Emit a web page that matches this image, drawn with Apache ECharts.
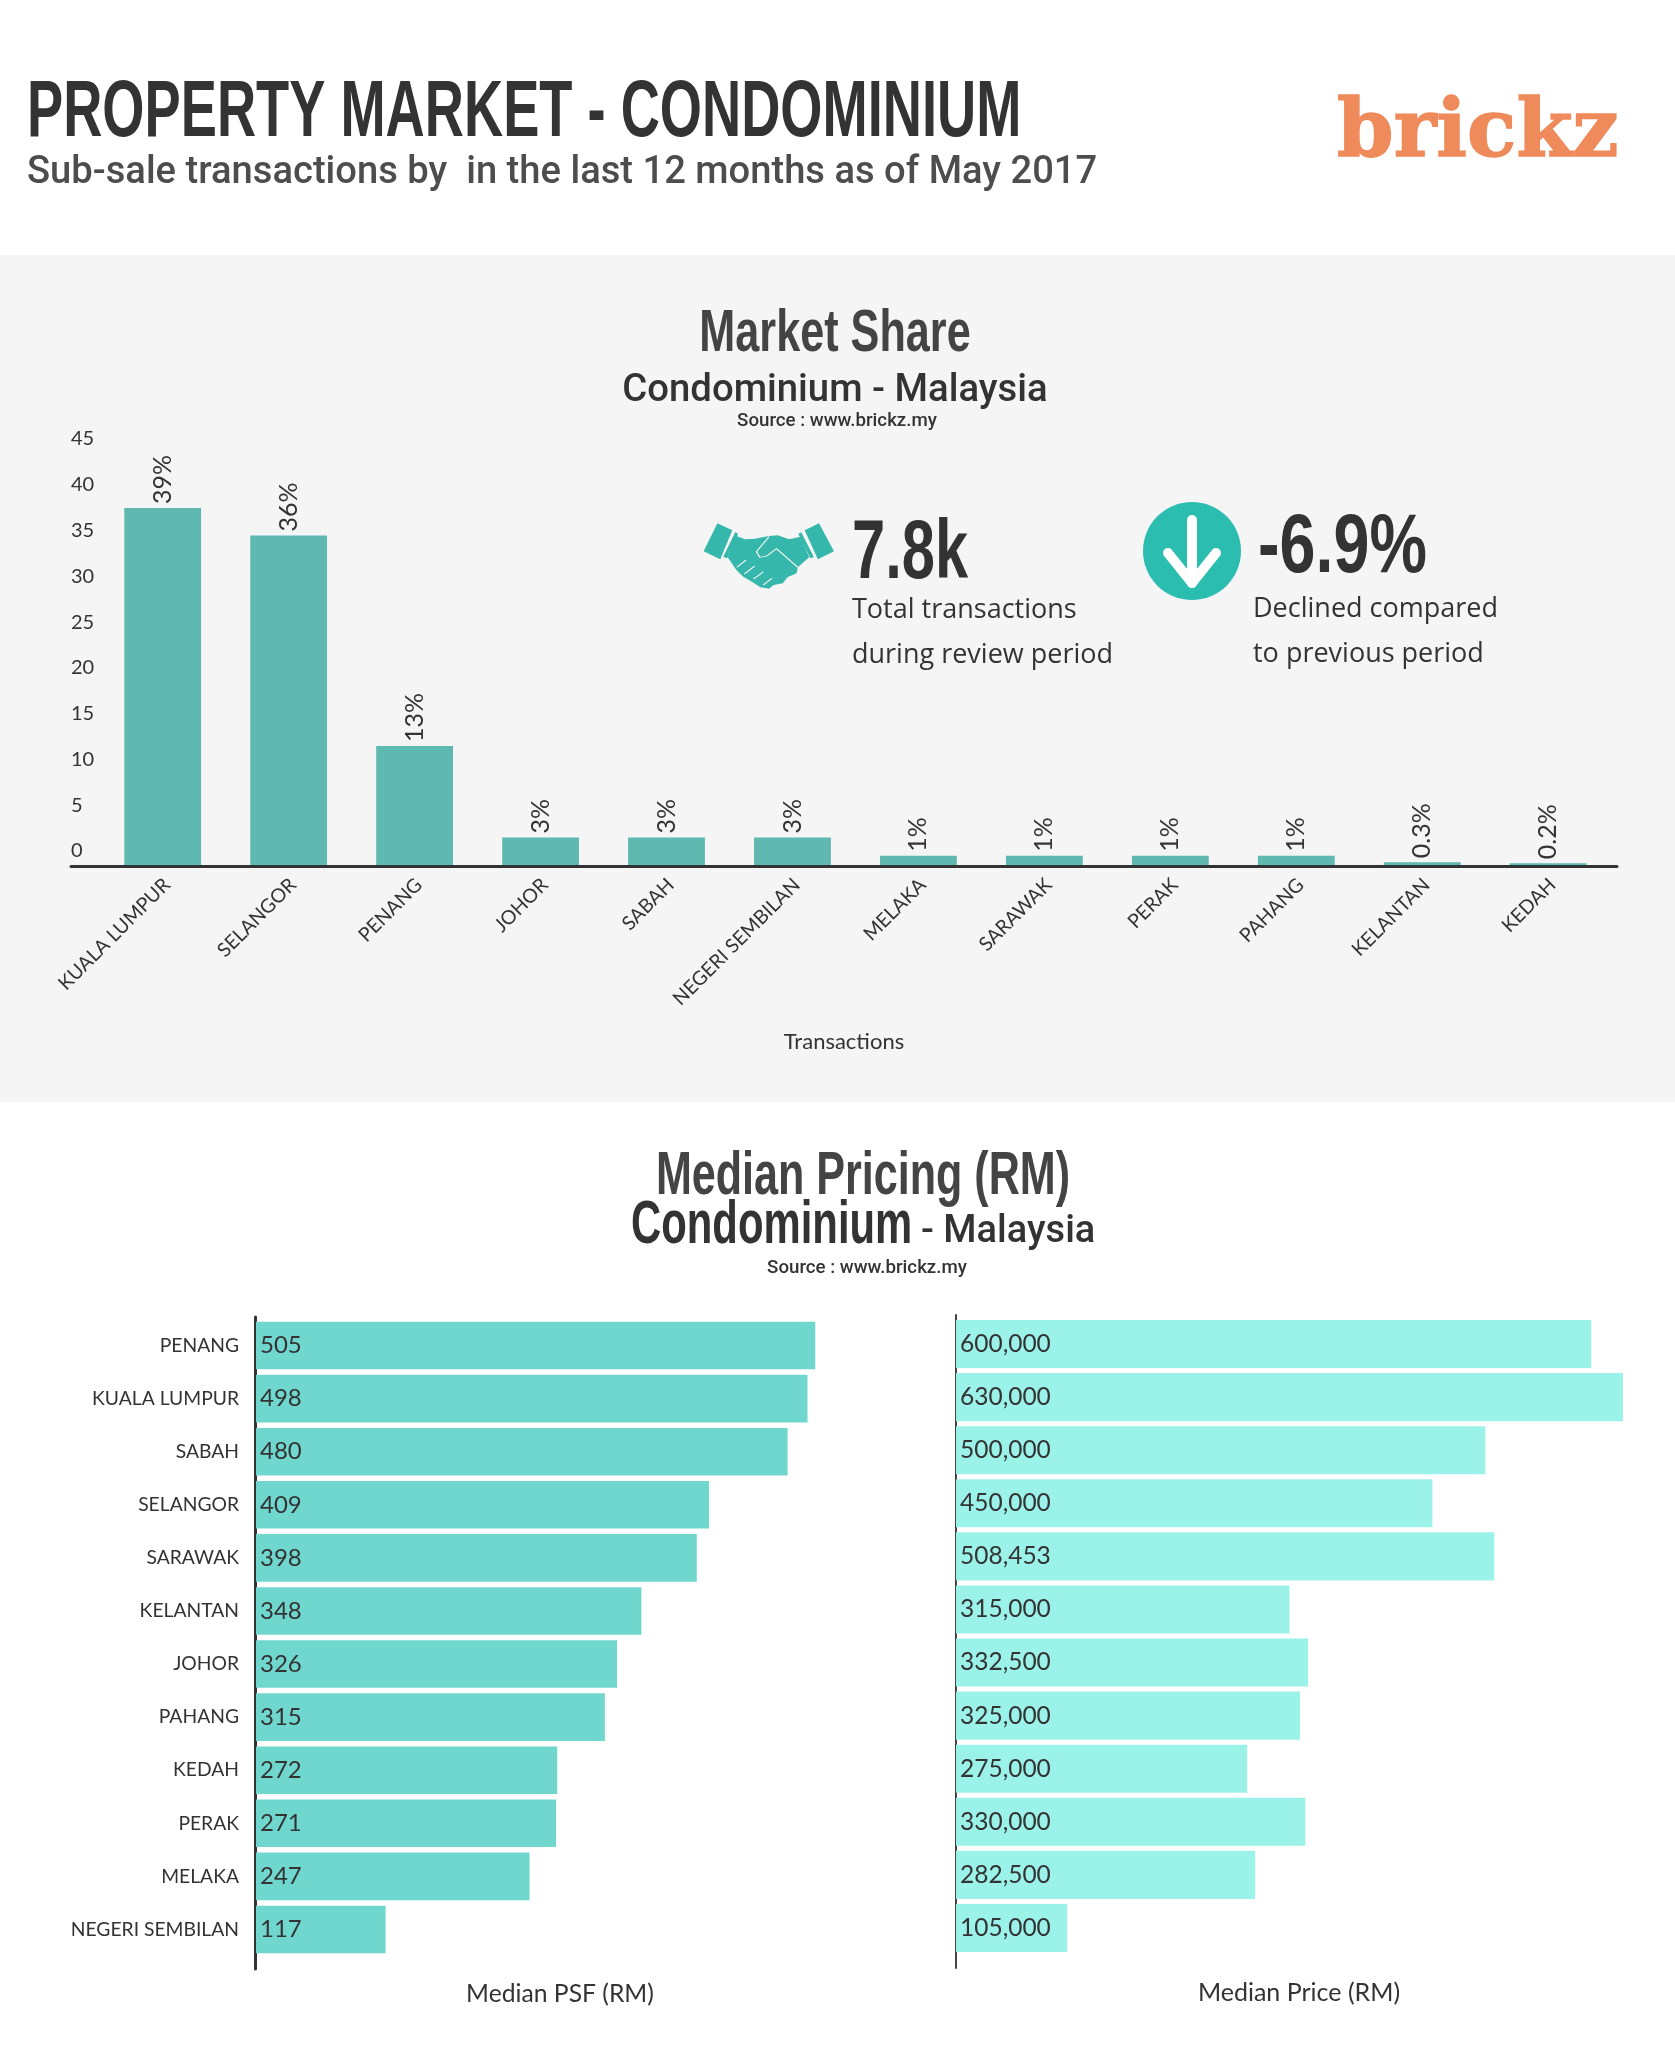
<!DOCTYPE html>
<html><head><meta charset="utf-8">
<script src="https://cdn.jsdelivr.net/npm/echarts@6/dist/echarts.min.js"></script>
<style>html,body{margin:0;padding:0;background:#fff}#c{width:1675px;height:2048px}</style>
</head><body><div id="c"></div>
<script>
const shareCategories = ['KUALA LUMPUR','SELANGOR','PENANG','JOHOR','SABAH','NEGERI SEMBILAN','MELAKA','SARAWAK','PERAK','PAHANG','KELANTAN','KEDAH'];
const shareValues = [39,36,13,3,3,3,1,1,1,1,0.3,0.2];
const pricingCategories = ['PENANG','KUALA LUMPUR','SABAH','SELANGOR','SARAWAK','KELANTAN','JOHOR','PAHANG','KEDAH','PERAK','MELAKA','NEGERI SEMBILAN'];
const medianPsf = [505,498,480,409,398,348,326,315,272,271,247,117];
const medianPrice = [600000,630000,500000,450000,508453,315000,332500,325000,275000,330000,282500,105000];

const SANS = '"Liberation Sans",sans-serif';
const ROBOTO = 'Roboto,sans-serif';
const BODY = 'Lato,sans-serif';
const OPEN = '"Open Sans",sans-serif';

function t(text, left, top, size, color, family, weight, align, extra) {
  return {text, left, top, textAlign: align || 'left', textVerticalAlign: 'middle', padding: 0,
    textStyle: Object.assign({fontSize: size, color, fontFamily: family, fontWeight: weight || 'normal', lineHeight: size}, extra || {})};
}
// condensed headline: there is no narrow face installed, so the bold face is squeezed
function h(text, x, y, size, color, sx, align) {
  return {type:'text', x, y, scaleX:sx, z:8, silent:true,
    style:{text, fontSize:size, fontFamily:SANS, fontWeight:'bold', fill:color, textAlign:align||'left', textVerticalAlign:'middle'}};
}
const titles = [
  t('Sub-sale transactions by  in the last 12 months as of May 2017', 27, 173, 38.15, '#4d4d4f', ROBOTO, 500),
  t('brickz', 1337, 135, 81, '#ef8a5b', '"DejaVu Serif",serif', 'bold', 'left', {textBorderColor:'#ef8a5b', textBorderWidth:1.5}),
  t('Condominium - Malaysia', 835, 391, 38.3, '#333333', ROBOTO, 500, 'center'),
  t('Source : www.brickz.my', 837, 421, 18.7, '#333333', ROBOTO, 500, 'center'),
  t('Total transactions', 852, 610, 27, '#333333', OPEN),
  t('during review period', 852, 655, 27, '#333333', OPEN),
  t('Declined compared', 1253, 609, 27, '#333333', OPEN),
  t('to previous period', 1253, 654, 27, '#333333', OPEN),
  t('- Malaysia', 921, 1232, 38, '#333333', ROBOTO, 500),
  t('Source : www.brickz.my', 867, 1268, 18.7, '#333333', ROBOTO, 500, 'center')
];

const teal = '#35b8ab';
const bg = '#f5f5f5';
const poly = pts => ({type:'polygon', shape:{points:pts}, style:{fill:teal}});
const line = pts => ({type:'polyline', shape:{points:pts}, style:{fill:null, stroke:bg, lineWidth:2.5}});
const graphic = [
  {type:'rect', z:-10, silent:true, shape:{x:0,y:255,width:1675,height:847}, style:{fill:bg}},
  h('PROPERTY MARKET - CONDOMINIUM', 27, 114, 80, '#333333', 0.678),
  h('Market Share', 835, 334, 60, '#444444', 0.72, 'center'),
  h('7.8k', 852, 555, 84, '#333333', 0.71),
  h('-6.9%', 1258, 549, 84, '#333333', 0.77),
  h('Median Pricing (RM)', 863, 1177, 62, '#444444', 0.695, 'center'),
  h('Condominium', 631, 1226, 62, '#333333', 0.675),
  {type:'group', x:660, y:470, scaleX:1/1.742, scaleY:1/3, z:5, children:[
    poly([[100,160],[126,181],[105,268],[76,244]]),
    poly([[277,160],[303,244],[275,268],[252,181]]),
    poly([[131,187],[136,191],[117,265],[110,261]]),
    poly([[246,187],[241,191],[262,265],[268,261]]),
    poly([[132,197],[148,208],[165,206],[190,198],[205,196],[225,208],[245,200],[260,262],[240,292],[238,310],[222,322],[214,340],[198,345],[190,356],[175,352],[160,335],[145,320],[133,300],[118,262]]),
    line([[190,200],[168,245],[174,262],[186,258],[203,236],[240,292]]),
    line([[150,270],[134,292]]),
    line([[165,288],[147,312]]),
    line([[180,305],[163,327]]),
    line([[195,325],[180,345]])
  ]},
  {type:'circle', z:5, shape:{cx:1192,cy:551,r:49}, style:{fill:'#2abdb0'}},
  {type:'line', z:6, shape:{x1:1192,y1:520,x2:1192,y2:583}, style:{stroke:'#ffffff', lineWidth:10, lineCap:'round'}},
  {type:'polyline', z:6, shape:{points:[[1168,553],[1192,583],[1216,553]]}, style:{fill:null, stroke:'#ffffff', lineWidth:10, lineCap:'round', lineJoin:'round'}}
];

const hidden = {show:false};
const option = {
  animation: false,
  backgroundColor: '#ffffff',
  title: titles,
  graphic,
  grid: [
    {left:99.7, top:453, width:1511.5, height:412},
    {left:71, top:454, width:1546, height:412},
    {left:256, top:1319, width:608, height:637},
    {left:255, top:1317, width:608, height:652},
    {left:956, top:1317.5, width:686, height:637},
    {left:955.5, top:1315, width:686, height:653}
  ],
  xAxis: [
    {gridIndex:0, type:'category', data:shareCategories, axisLine:hidden, axisTick:hidden,
      axisLabel:{rotate:45, interval:0, margin:21, padding:[0,-6,0,0], fontSize:19.5, color:'#333333', fontFamily:BODY}},
    {gridIndex:1, type:'value', min:0, max:1, axisLine:{show:true, onZero:false, lineStyle:{color:'#333333', width:3}},
      axisTick:hidden, axisLabel:hidden, splitLine:hidden,
      name:'Transactions', nameLocation:'middle', nameGap:165, nameTextStyle:{fontSize:22, color:'#333333', fontFamily:BODY}},
    {gridIndex:2, type:'value', min:0, max:549, axisLine:hidden, axisTick:hidden, axisLabel:hidden, splitLine:hidden,
      name:'Median PSF (RM)', nameLocation:'middle', nameGap:25.5, nameTextStyle:{fontSize:24.7, color:'#333333', fontFamily:BODY}},
    {gridIndex:3, type:'value', min:0, max:1, show:false},
    {gridIndex:4, type:'value', min:0, max:648000, axisLine:hidden, axisTick:hidden, axisLabel:hidden, splitLine:hidden,
      name:'Median Price (RM)', nameLocation:'middle', nameGap:26, nameTextStyle:{fontSize:25, color:'#333333', fontFamily:BODY}},
    {gridIndex:5, type:'value', min:0, max:1, show:false}
  ],
  yAxis: [
    {gridIndex:0, type:'value', min:0, max:45, interval:5, axisLine:hidden, axisTick:hidden, splitLine:hidden,
      axisLabel:{margin:28.7, align:'left', verticalAlign:'bottom', padding:[0,0,4,0], fontSize:20, color:'#333333', fontFamily:BODY}},
    {gridIndex:1, type:'value', min:0, max:1, show:false},
    {gridIndex:2, type:'category', inverse:true, data:pricingCategories, axisLine:hidden, axisTick:hidden,
      axisLabel:{interval:0, margin:17, padding:[2,0,0,0], fontSize:19.3, color:'#333333', fontFamily:BODY}},
    {gridIndex:3, type:'value', min:0, max:1, axisLine:{show:true, lineStyle:{color:'#333333', width:3}}, axisTick:hidden, axisLabel:hidden, splitLine:hidden},
    {gridIndex:4, type:'category', inverse:true, data:pricingCategories, axisLine:hidden, axisTick:hidden, axisLabel:hidden},
    {gridIndex:5, type:'value', min:0, max:1, axisLine:{show:true, lineStyle:{color:'#444444', width:2}}, axisTick:hidden, axisLabel:hidden, splitLine:hidden}
  ],
  series: [
    {type:'bar', xAxisIndex:0, yAxisIndex:0, data:shareValues, barCategoryGap:'39%', itemStyle:{color:'#5fb9b1'},
      label:{show:true, position:'top', distance:4, rotate:90, align:'left', verticalAlign:'middle', formatter:'{c}%', fontSize:25, color:'#333333', fontFamily:BODY}},
    {type:'bar', xAxisIndex:2, yAxisIndex:2, data:medianPsf, barCategoryGap:'10.5%', itemStyle:{color:'#6fd7ce'},
      label:{show:true, position:'insideLeft', distance:4, padding:[2,0,0,0], fontSize:24, color:'#333333', fontFamily:BODY}},
    {type:'bar', xAxisIndex:4, yAxisIndex:4, data:medianPrice, barCategoryGap:'9.5%', itemStyle:{color:'#9bf2e9'},
      label:{show:true, position:'insideLeft', distance:4, padding:[2,0,0,0], fontSize:24.5, color:'#333333', fontFamily:BODY,
        formatter:p=>p.value.toLocaleString('en-US')}}
  ]
};
echarts.init(document.getElementById('c')).setOption(option);
</script></body></html>
